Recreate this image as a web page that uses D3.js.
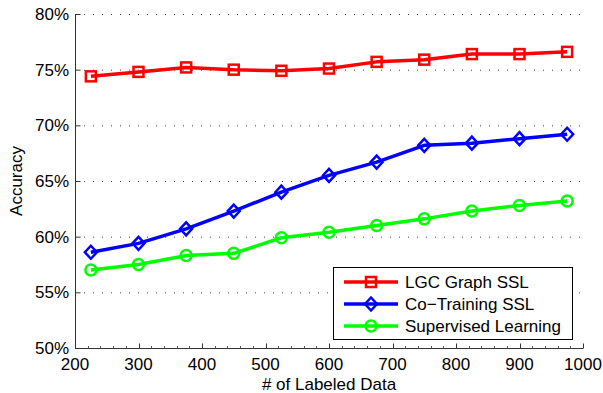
<!DOCTYPE html>
<html lang="en">
<head>
<meta charset="utf-8">
<title>Accuracy vs labeled data</title>
<script src="https://cdn.jsdelivr.net/npm/d3@7"></script>
<style>
  body { margin: 0; background: #fff; }
  text { font-family: "Liberation Sans", Arial, sans-serif; fill: #000; }
</style>
</head>
<body>
<script>
// data
var labeled = [225, 300, 375, 450, 525, 600, 675, 750, 825, 900, 975];
var lgc = [74.4, 74.8, 75.2, 75.0, 74.9, 75.1, 75.7, 75.9, 76.4, 76.4, 76.6];
var cotrain = [58.6, 59.4, 60.7, 62.3, 64.0, 65.5, 66.7, 68.2, 68.4, 68.8, 69.2];
var supervised = [57.0, 57.5, 58.3, 58.5, 59.9, 60.4, 61.0, 61.6, 62.3, 62.8, 63.2];
var seriesNames = ["LGC Graph SSL", "Co\u2212Training SSL", "Supervised Learning"];
var xTicks = [200, 300, 400, 500, 600, 700, 800, 900, 1000];
var yTicks = [50, 55, 60, 65, 70, 75, 80];

var w = 603, h = 393;
// plot box edges (window.top is read-only, so no "top" here)
var padL = 75, padR = 583, padT = 14, padB = 348;

var svg = d3.select("body").append("svg")
  .attr("width", w)
  .attr("height", h);

var x = d3.scaleLinear().domain([200, 1000]).range([padL, padR]);
var y = d3.scaleLinear().domain([50, 80]).range([padB, padT]);

// dotted horizontal grid
svg.append("g").selectAll("line")
  .data(yTicks.slice(1))
  .enter().append("line")
  .attr("x1", padL).attr("x2", padR)
  .attr("y1", function(d) { return y(d) + 0.5; })
  .attr("y2", function(d) { return y(d) + 0.5; })
  .attr("stroke", "#444")
  .attr("stroke-width", 1)
  .attr("stroke-dasharray", "1,8");

// x axis with ticks inside
var xAxis = svg.append("g")
  .attr("transform", "translate(0," + (padB + 0.5) + ")");
xAxis.append("line")
  .attr("x1", padL).attr("x2", padR)
  .attr("stroke", "#333");
xAxis.selectAll(".minor")
  .data(d3.range(220, 1000, 20))
  .enter().append("line")
  .attr("class", "minor")
  .attr("x1", function(d) { return Math.round(x(d)) + 0.5; })
  .attr("x2", function(d) { return Math.round(x(d)) + 0.5; })
  .attr("y1", 0).attr("y2", -2.5)
  .attr("stroke", "#555");
xAxis.selectAll(".major")
  .data(xTicks)
  .enter().append("line")
  .attr("class", "major")
  .attr("x1", function(d) { return Math.round(x(d)) + 0.5; })
  .attr("x2", function(d) { return Math.round(x(d)) + 0.5; })
  .attr("y1", 0).attr("y2", -5)
  .attr("stroke", "#333");
xAxis.selectAll("text")
  .data(xTicks)
  .enter().append("text")
  .attr("x", function(d) { return x(d); })
  .attr("y", 21.5)
  .attr("text-anchor", "middle")
  .attr("font-size", "17px")
  .text(function(d) { return d; });

// y axis
var yAxis = svg.append("g")
  .attr("transform", "translate(" + (padL + 0.5) + ",0)");
yAxis.append("line")
  .attr("y1", padT).attr("y2", padB)
  .attr("stroke", "#333");
yAxis.selectAll(".tick")
  .data(yTicks)
  .enter().append("line")
  .attr("class", "tick")
  .attr("x1", 0).attr("x2", 5)
  .attr("y1", function(d) { return y(d) + 0.5; })
  .attr("y2", function(d) { return y(d) + 0.5; })
  .attr("stroke", "#333");
yAxis.selectAll("text")
  .data(yTicks)
  .enter().append("text")
  .attr("x", -6.5)
  .attr("y", function(d) { return y(d) + 6; })
  .attr("text-anchor", "end")
  .attr("font-size", "17px")
  .text(function(d) { return d + "%"; });

// axis titles
svg.append("text")
  .attr("x", (padL + padR) / 2)
  .attr("y", 390)
  .attr("text-anchor", "middle")
  .attr("font-size", "17px")
  .text("# of Labeled Data");
svg.append("text")
  .attr("transform", "translate(22," + ((padT + padB) / 2) + ") rotate(-90)")
  .attr("text-anchor", "middle")
  .attr("font-size", "17px")
  .text("Accuracy");

// markers
function drawMarker(g, kind, color) {
  if (kind == "square") {
    g.append("rect").attr("x", -5).attr("y", -5).attr("width", 10).attr("height", 10)
      .attr("fill", "none").attr("stroke", color).attr("stroke-width", 2.5);
  } else if (kind == "diamond") {
    g.append("path").attr("d", "M0,-6.5L6,0L0,6.5L-6,0Z")
      .attr("fill", "none").attr("stroke", color).attr("stroke-width", 2.5);
  } else {
    g.append("circle").attr("r", 5.5)
      .attr("fill", "none").attr("stroke", color).attr("stroke-width", 2.5);
  }
}

var series = [
  { name: seriesNames[0], values: lgc, color: "#ff0000", marker: "square" },
  { name: seriesNames[1], values: cotrain, color: "#0000ff", marker: "diamond" },
  { name: seriesNames[2], values: supervised, color: "#00ff00", marker: "circle" }
];

var line = d3.line()
  .x(function(d, i) { return x(labeled[i]); })
  .y(function(d) { return y(d); });

series.forEach(function(s) {
  svg.append("path")
    .datum(s.values)
    .attr("d", line)
    .attr("fill", "none")
    .attr("stroke", s.color)
    .attr("stroke-width", 3.5)
    .attr("stroke-linejoin", "round");
  svg.append("g").selectAll("g")
    .data(s.values)
    .enter().append("g")
    .attr("transform", function(d, i) { return "translate(" + x(labeled[i]) + "," + y(d) + ")"; })
    .each(function() { drawMarker(d3.select(this), s.marker, s.color); });
});

// legend
var legend = svg.append("g");
legend.append("rect")
  .attr("x", 333.5).attr("y", 267.5)
  .attr("width", 239).attr("height", 72)
  .attr("fill", "#fff")
  .attr("stroke", "#000")
  .attr("stroke-width", 1);
series.forEach(function(s, i) {
  var ly = 282 + i * 22;
  legend.append("line")
    .attr("x1", 344).attr("x2", 398)
    .attr("y1", ly).attr("y2", ly)
    .attr("stroke", s.color)
    .attr("stroke-width", 3.5);
  drawMarker(legend.append("g").attr("transform", "translate(371," + ly + ")"), s.marker, s.color);
  legend.append("text")
    .attr("x", 405)
    .attr("y", ly + 6)
    .attr("font-size", "17px")
    .text(s.name);
});
</script>
</body>
</html>
